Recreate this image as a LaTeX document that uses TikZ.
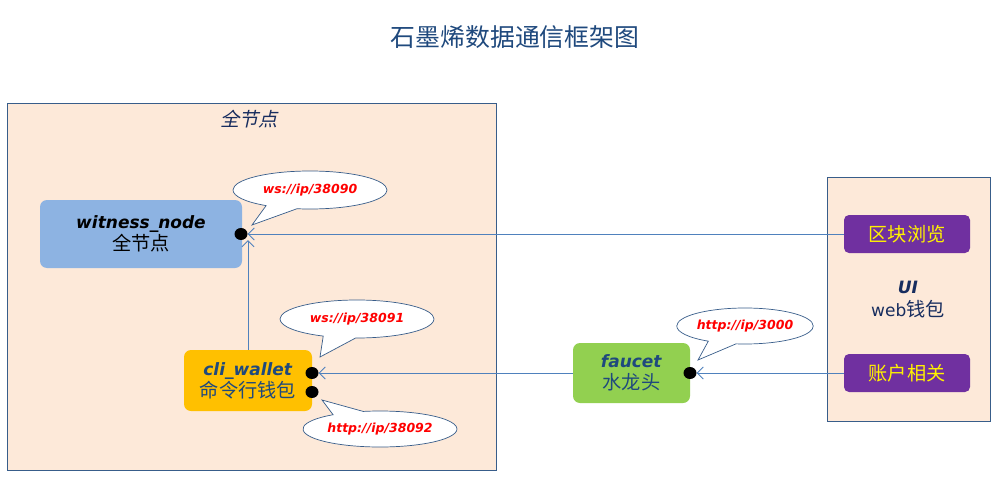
\documentclass[tikz,border=0pt]{standalone}
\usepackage{fontspec}
\setmainfont{DejaVu Sans}
\newfontfamily\cjk[Scale=1.13]{Noto Sans CJK SC}
\usetikzlibrary{
	shapes.geometric,
	shapes.callouts,
	arrows.meta
}
\definecolor{peach}{RGB}{253,233,217}
\definecolor{frameblue}{RGB}{56,93,138}
\definecolor{linkblue}{RGB}{79,129,189}
\definecolor{navy}{RGB}{31,73,125}
\definecolor{deepnavy}{RGB}{23,45,95}
\definecolor{witnessblue}{RGB}{141,179,226}
\definecolor{walletgold}{RGB}{255,192,0}
\definecolor{faucetgreen}{RGB}{146,208,80}
\definecolor{uipurple}{RGB}{112,48,160}
\tikzset{
	frame/.style={
		draw=frameblue,
		fill=peach,
		line width=0.8pt,
		inner sep=0pt
	},
	module/.style={
		rounded corners=7pt,
		inner sep=0pt,
		align=center,
		font=\fontsize{17}{22}\selectfont
	},
	uibutton/.style={
		fill=uipurple,
		rounded corners=5pt,
		inner sep=0pt,
		minimum width=126pt,
		minimum height=38pt,
		text=yellow,
		font=\fontsize{17}{22}\selectfont\cjk
	},
	port/.style={
		ellipse,
		fill=black,
		inner sep=0pt,
		minimum width=13pt,
		minimum height=12pt
	},
	link/.style={
		draw=linkblue,
		line width=0.8pt,
		-{Straight Barb[length=6pt,width=12pt]}
	},
	tag/.style={
		ellipse callout,
		draw=frameblue,
		fill=white,
		line width=0.7pt,
		callout pointer arc=25,
		inner sep=0pt,
		text=red,
		font=\fontsize{12.5}{14}\selectfont\bfseries\itshape
	}
}
\begin{document}
\begin{tikzpicture}[x=1pt,y=-1pt]
	\useasboundingbox (0,0) rectangle (996,487);
	\node[text=navy, font=\fontsize{22}{26}\selectfont\cjk] (title) at (515,37) {石墨烯数据通信框架图};
	%% frames
	\node[frame, minimum width=489pt, minimum height=367pt] (fullbox) at (251.5,286.5) {};
	\node[shift={(251,119)}, xslant=0.22, transform shape, text=deepnavy, font=\fontsize{17}{22}\selectfont\cjk] (fulltitle) at (0,0) {全节点};
	\node[frame, minimum width=163pt, minimum height=244pt] (uibox) at (908.5,299) {};
	\node[text=deepnavy, align=center, font=\fontsize{17}{23}\selectfont] (uilabel) at (908,300) {\textbf{\textit{UI}}\\web{\cjk 钱包}};
	%% modules
	\node[module, fill=witnessblue, minimum width=202pt, minimum height=68pt] (wit) at (141,234) {\textbf{\textit{witness\_node}}\\{\cjk 全节点}};
	\node[module, fill=walletgold, text=navy, minimum width=128pt, minimum height=61pt] (cli) at (248,380.5) {\textbf{\textit{cli\_wallet}}\\{\cjk 命令行钱包}};
	\node[module, fill=faucetgreen, text=navy, minimum width=117pt, minimum height=60pt] (fau) at (631.5,373) {\textbf{\textit{faucet}}\\{\cjk 水龙头}};
	\node[uibutton] (ub) at (907,234) {区块浏览};
	\node[uibutton] (acc) at (907,373) {账户相关};
	%% ports
	\node[port] (wdot) at (241,234) {};
	\node[port] (cdot1) at (312,373) {};
	\node[port] (cdot2) at (312,392) {};
	\node[port] (fdot) at (690,373) {};
	%% connections
	\draw[link] (ub.west) -- (wdot.east);
	\draw[link] (cli.north) -- (cli.north |- wdot.south);
	\draw[link] (fau.west) -- (cdot1.east);
	\draw[link] (acc.west) -- (fdot.east);
	%% addresses
	\node[tag, minimum width=154pt, minimum height=38pt, callout absolute pointer={([shift={(11,-9)}]wdot.center)}] (wsnode) at (310,190) {ws://ip/38090};
	\node[tag, minimum width=154pt, minimum height=38pt, callout absolute pointer={([shift={(8,-16)}]cdot1.center)}] (wswallet) at (357,319) {ws://ip/38091};
	\node[tag, minimum width=154pt, minimum height=36pt, callout absolute pointer={([shift={(10,8)}]cdot2.center)}] (httpwallet) at (380,429) {http://ip/38092};
	\node[tag, minimum width=136pt, minimum height=36pt, callout absolute pointer={([shift={(8,-13)}]fdot.center)}] (httpfaucet) at (745,326) {http://ip/3000};
\end{tikzpicture}
\end{document}
